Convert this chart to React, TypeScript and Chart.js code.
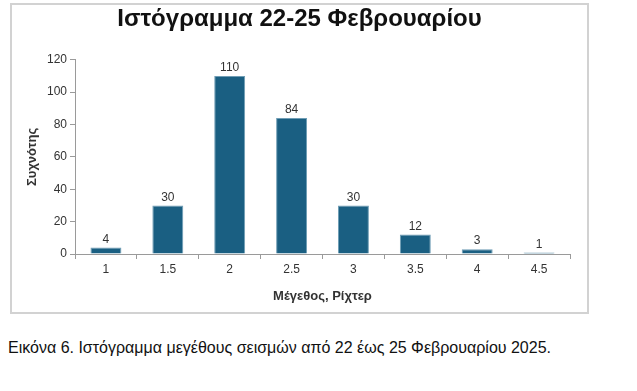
import React, { useEffect, useRef } from "react";
import { Chart, registerables } from "chart.js";

Chart.register(...registerables);

const categories = ["1", "1.5", "2", "2.5", "3", "3.5", "4", "4.5"];
const frequencies = [4, 30, 110, 84, 30, 12, 3, 1];
const yTicks = [0, 20, 40, 60, 80, 100, 120];

const chartTitle = "Ιστόγραμμα 22-25 Φεβρουαρίου";
const xTitle = "Μέγεθος, Ρίχτερ";
const yTitle = "Συχνότης";
const caption = "Εικόνα 6. Ιστόγραμμα μεγέθους σεισμών από 22 έως 25 Φεβρουαρίου 2025.";

const FONT = "'Liberation Sans', Arial, sans-serif";

const valueLabels = {
  id: "valueLabels",
  afterDatasetsDraw(chart: any) {
    const ctx = chart.ctx;
    const meta = chart.getDatasetMeta(0);
    ctx.save();
    ctx.font = `12px ${FONT}`;
    ctx.fillStyle = "#333333";
    ctx.textAlign = "center";
    ctx.textBaseline = "bottom";
    meta.data.forEach((bar: any, i: number) => {
      ctx.fillText(String(frequencies[i]), bar.x, bar.y - 2);
    });
    ctx.restore();
  },
};

// center the title over the whole canvas instead of the padded layout area
const centerTitle = {
  id: "centerTitle",
  afterLayout(chart: any) {
    const t = chart.titleBlock;
    if (t) {
      t.left = 0;
      t.right = chart.width;
      t.width = chart.width;
    }
  },
};

export default function App() {
  const ref = useRef<HTMLCanvasElement>(null);

  useEffect(() => {
    if (!ref.current) return;
    const chart = new Chart(ref.current, {
      type: "bar",
      data: {
        labels: categories,
        datasets: [
          {
            data: frequencies,
            backgroundColor: "#1a5f82",
            borderColor: "#6f9db5",
            borderWidth: 1,
            barPercentage: 0.5,
            categoryPercentage: 1,
          },
        ],
      },
      options: {
        animation: false,
        responsive: false,
        maintainAspectRatio: false,
        layout: { padding: { left: 0, right: 17, top: 0, bottom: 0 } },
        plugins: {
          legend: { display: false },
          tooltip: { enabled: false },
          title: {
            display: true,
            text: chartTitle,
            color: "#111111",
            font: { family: FONT, size: 24, weight: "bold" },
            padding: { top: 0, bottom: 26 },
          },
        },
        scales: {
          x: {
            grid: {
              display: true,
              drawOnChartArea: false,
              drawTicks: true,
              tickLength: 5,
              color: "#9a9a9a",
              offset: true,
            },
            border: { display: true, color: "#9a9a9a", width: 1 },
            ticks: {
              color: "#333333",
              font: { family: FONT, size: 12 },
              padding: 3,
              maxRotation: 0,
            },
            title: {
              display: true,
              text: xTitle,
              color: "#333333",
              font: { family: FONT, size: 13, weight: "bold" },
              padding: { top: 0, bottom: 8 },
            },
            afterFit(scale: any) {
              scale.height = 58;
            },
          },
          y: {
            min: 0,
            max: 120,
            afterBuildTicks(scale: any) {
              scale.ticks = yTicks.map((v) => ({ value: v }));
            },
            grid: {
              display: true,
              drawOnChartArea: false,
              drawTicks: true,
              tickLength: 5,
              color: "#9a9a9a",
            },
            border: { display: true, color: "#9a9a9a", width: 1 },
            ticks: {
              color: "#333333",
              font: { family: FONT, size: 12 },
              padding: 3,
            },
            title: {
              display: true,
              text: yTitle,
              color: "#333333",
              font: { family: FONT, size: 13, weight: "bold" },
              padding: { top: 13, bottom: 0 },
            },
            afterFit(scale: any) {
              scale.width = 63;
            },
          },
        },
      },
      plugins: [valueLabels, centerTitle],
    });
    return () => chart.destroy();
  }, []);

  return (
    <div style={{ position: "fixed", left: 0, top: 0, width: 637, height: 391, background: "#ffffff" }}>
      <div
        style={{
          position: "absolute",
          left: 10,
          top: 3,
          width: 575,
          height: 307,
          border: "2px solid #d2d2d2",
        }}
      >
        <canvas ref={ref} width={575} height={307} style={{ display: "block", width: 575, height: 307 }} />
      </div>
      <div
        style={{
          position: "absolute",
          left: 8,
          top: 339,
          fontFamily: FONT,
          fontSize: 16,
          color: "#111111",
          whiteSpace: "nowrap",
        }}
      >
        {caption}
      </div>
    </div>
  );
}
